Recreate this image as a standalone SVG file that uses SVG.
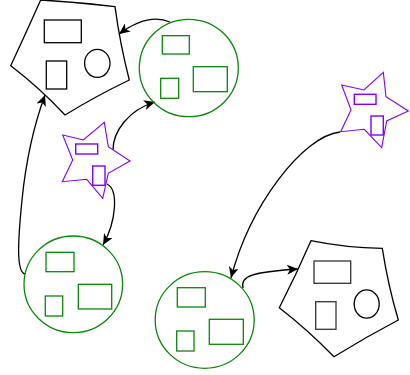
<svg xmlns="http://www.w3.org/2000/svg" width="410" height="375" viewBox="0 0 410 375">
<style>
.blk{fill:none;stroke:#000;stroke-width:1.3}
.grn{fill:none;stroke:#0a860a;stroke-width:1.3}
.pur{fill:none;stroke:#7f00ff;stroke-width:1.1}
.pur2{fill:none;stroke:#7f00ff;stroke-width:1.4}
.gry{fill:none;stroke:#333;stroke-width:1.3}
.edge{fill:none;stroke:#000;stroke-width:1.3}
</style>
<defs>
<marker id="ah" markerUnits="userSpaceOnUse" markerWidth="12" markerHeight="10" refX="11" refY="5" orient="auto">
<path d="M0,0 L11,5 L0,10 L3,5 z" fill="#000"/>
</marker>
</defs>
<rect width="410" height="375" fill="#fff"/>
<g id="connectors">
<path class="edge" d="M170,22 C156,16 138,20 119,34" marker-end="url(#ah)"/>
<path class="edge" d="M113,150 C113,132 128,110 155,102" marker-end="url(#ah)"/>
<path class="edge" d="M107,184 C119,190 116,222 103,245" marker-end="url(#ah)"/>
<path class="edge" d="M25,274 C16,272 18,240 22,200 C26,160 34,125 45,95" marker-end="url(#ah)"/>
<path class="edge" d="M340,132 C303,136 250,205 231,278" marker-end="url(#ah)"/>
<path class="edge" d="M243,288 C240,276 252,272 298,269" marker-end="url(#ah)"/>
</g>
<g id="pentagon1">
<path class="blk" d="M40.7,0 Q78,2 115,6.7 Q120,44 129.3,80 Q96,96 65,115 Q40,88 10.7,65.7 Q26,33 40.7,0 Z"/>
<rect class="blk" x="44.3" y="20" width="37" height="22.7"/>
<rect class="blk" x="46.3" y="61" width="20.4" height="28"/>
<ellipse class="blk" cx="97.3" cy="63.3" rx="12.7" ry="14"/>
</g>
<g id="circle1">
<ellipse class="grn" cx="188.8" cy="68" rx="49.5" ry="48.7"/>
<rect class="grn" x="162.3" y="35.7" width="27" height="18.3"/>
<rect class="grn" x="160.7" y="78.3" width="18" height="20"/>
<rect class="grn" x="193.3" y="66.7" width="34" height="25"/>
</g>
<g id="star1">
<path class="pur" d="M62.7,135 L83.3,140 L104.3,122.3 L108.3,146.7 L130,161 L108.3,173.3 L102.7,198.3 L86.7,179.3 L62.3,181.7 L72.7,160 Z"/>
<rect class="pur2" x="75.7" y="144" width="22" height="10"/>
<rect class="pur2" x="92.7" y="166" width="12.3" height="19.3"/>
</g>
<g id="circle3">
<ellipse class="grn" cx="73.3" cy="284.3" rx="49.3" ry="48.3"/>
<rect class="grn" x="46" y="252.3" width="28" height="19.4"/>
<rect class="grn" x="45.3" y="296" width="17.4" height="20"/>
<rect class="grn" x="78.3" y="284.3" width="33.4" height="24.7"/>
</g>
<g id="circle4">
<ellipse class="grn" cx="204.7" cy="320" rx="49.5" ry="48.3"/>
<rect class="grn" x="177.3" y="287.7" width="28" height="19.3"/>
<rect class="grn" x="176.7" y="331" width="17.3" height="20"/>
<rect class="grn" x="209.3" y="319.3" width="34" height="25"/>
</g>
<g id="pentagon2">
<path class="blk" d="M311,240.7 Q346,248 382.3,248.3 Q388,285 398.3,320 Q366,337 334,356.7 Q308,330 279.3,307.7 Q296,275 311,240.7 Z"/>
<rect class="gry" x="314" y="261" width="36.7" height="22.3"/>
<rect class="gry" x="315.7" y="301.7" width="20.3" height="27.6"/>
<ellipse class="blk" cx="366.7" cy="304" rx="12.5" ry="14.2"/>
</g>
<g id="star2">
<path class="pur" d="M341.7,85 L364,90 L383.3,72.3 L386,96.7 L408.3,111 L386.7,121 L381.7,147.7 L364.3,129.3 L340.7,131.7 L351,110 Z"/>
<rect class="pur2" x="354.3" y="94.3" width="21.7" height="10"/>
<rect class="pur2" x="371" y="116" width="12.3" height="19"/>
</g>
</svg>
